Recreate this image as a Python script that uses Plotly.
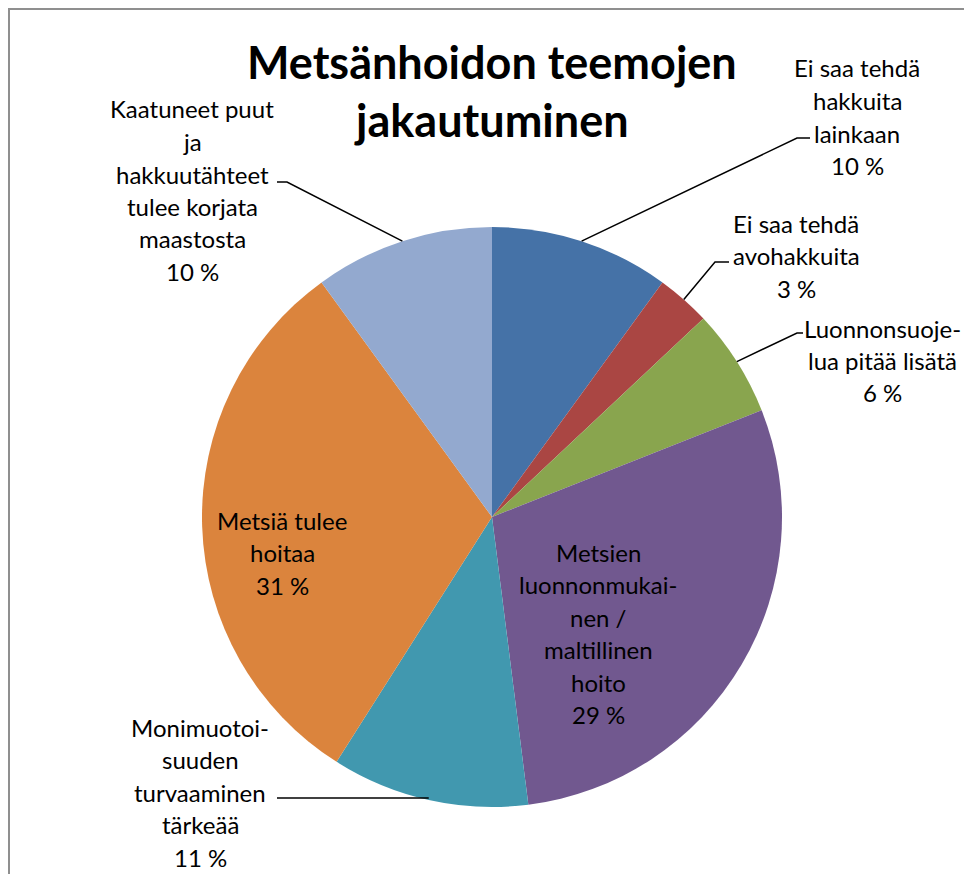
import math
import plotly.graph_objects as go

# ---- data ----
labels = [
    "Ei saa tehdä hakkuita lainkaan",
    "Ei saa tehdä avohakkuita",
    "Luonnonsuojelua pitää lisätä",
    "Metsien luonnonmukainen / maltillinen hoito",
    "Monimuotoisuuden turvaaminen tärkeää",
    "Metsiä tulee hoitaa",
    "Kaatuneet puut ja hakkuutähteet tulee korjata maastosta",
]
values = [10, 3, 6, 29, 11, 31, 10]
label_lines = [
    ["Ei saa tehdä", "hakkuita", "lainkaan"],
    ["Ei saa tehdä", "avohakkuita"],
    ["Luonnonsuoje-", "lua pitää lisätä"],
    ["Metsien", "luonnonmukai-", "nen /", "maltillinen", "hoito"],
    ["Monimuotoi-", "suuden", "turvaaminen", "tärkeää"],
    ["Metsiä tulee", "hoitaa"],
    ["Kaatuneet puut", "ja", "hakkuutähteet", "tulee korjata", "maastosta"],
]
colors = ["#4572A7", "#AA4643", "#89A54E", "#71588F", "#4198AF", "#DB843D", "#93A9CF"]
title_lines = ["Metsänhoidon teemojen", "jakautuminen"]

# ---- layout constants (pixels) ----
W, H = 964, 874
CX, CY, R = 492, 517, 290
FONT = "Lato, Calibri, sans-serif"
LBL_SIZE = 24
LINE_GAP = 32.5

# label block: (center x, first-line y) in pixels
label_pos = [
    (857, 68),
    (796, 223),
    (882, 328),
    (598, 552),
    (200, 727),
    (282, 520),
    (192, 109),
]
# leader: ("p", elbow x, elbow y, end x) or ("h", y, end x) or None
leaders = [
    ("p", 797, 138, 810),
    ("p", 715, 262, 729),
    ("p", 797, 333, 803),
    None,
    ("h", 798, 277),
    None,
    ("p", 287, 182, 277),
]


def px(x):
    return x / W


def py(y):
    return 1 - y / H


fig = go.Figure(go.Pie(
    labels=labels,
    values=values,
    sort=False,
    direction="clockwise",
    rotation=0,
    marker=dict(colors=colors, line=dict(width=0)),
    textinfo="none",
    hoverinfo="label+percent",
    showlegend=False,
    domain=dict(x=[px(CX - R), px(CX + R)], y=[py(CY + R), py(CY - R)]),
))

annotations = []
shapes = []

total = sum(values)
cum = 0
for i, v in enumerate(values):
    frac_mid = (cum + v / 2) / total
    cum += v
    ang = 2 * math.pi * frac_mid
    ex = CX + R * math.sin(ang)
    ey = CY - R * math.cos(ang)
    lines = label_lines[i] + [f"{round(100 * v / total)} %"]
    lx, ly = label_pos[i]
    for k, t in enumerate(lines):
        annotations.append(dict(
            x=px(lx), y=py(ly + k * LINE_GAP), xref="paper", yref="paper",
            text=t, showarrow=False, xanchor="center", yanchor="middle",
            font=dict(family=FONT, size=LBL_SIZE, color="#000000"),
        ))
    ld = leaders[i]
    if ld is None:
        continue
    if ld[0] == "h":
        _, hy, endx = ld
        shapes.append(dict(type="line", xref="paper", yref="paper",
                           x0=px(ex), y0=py(hy), x1=px(endx), y1=py(hy),
                           line=dict(color="#000000", width=1.5)))
    else:
        _, bx, by, endx = ld
        shapes.append(dict(type="path", xref="paper", yref="paper",
                           path=f"M {px(ex)} {py(ey)} L {px(bx)} {py(by)} L {px(endx)} {py(by)}",
                           line=dict(color="#000000", width=1.5)))

# title
for k, t in enumerate(title_lines):
    annotations.append(dict(
        x=px(492), y=py(62 + k * 58), xref="paper", yref="paper",
        text=f"<b>{t}</b>", showarrow=False, xanchor="center", yanchor="middle",
        font=dict(family=FONT, size=45, color="#000000"),
    ))

# chart border
shapes.append(dict(type="rect", xref="paper", yref="paper",
                   x0=px(9), y0=py(9), x1=1.05, y1=-0.05,
                   line=dict(color="#8f8f8f", width=2), layer="above"))

fig.update_layout(
    width=W, height=H,
    margin=dict(l=0, r=0, t=0, b=0),
    paper_bgcolor="white",
    plot_bgcolor="white",
    annotations=annotations,
    shapes=shapes,
)

fig.write_html("out.html",
               config={"displayModeBar": False},
               post_script="document.body.style.margin='0';document.body.style.overflow='hidden';")
